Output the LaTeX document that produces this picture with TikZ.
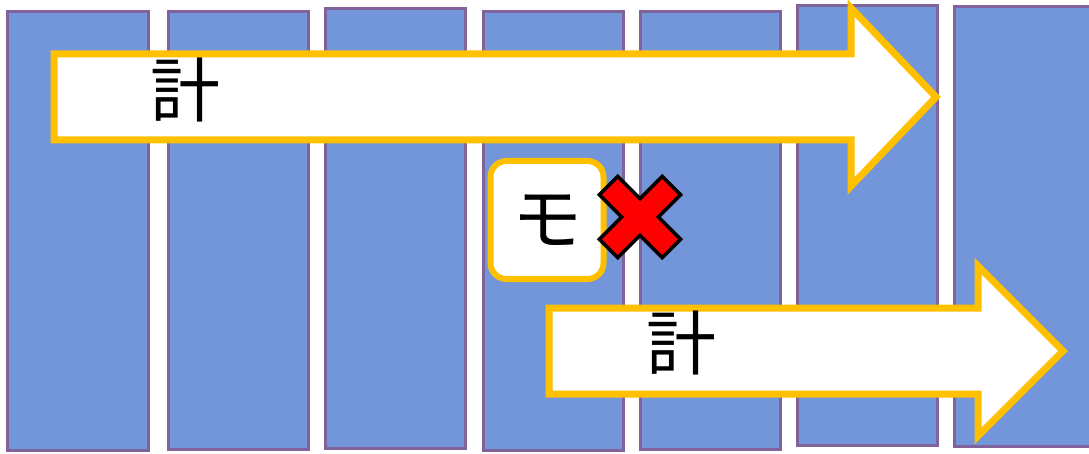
\documentclass[tikz,border=0pt]{standalone}
\usepackage{fontspec}
\newfontfamily\cjk{Noto Sans CJK JP}
\definecolor{colfill}{HTML}{7396DA}
\definecolor{coledge}{HTML}{80639A}
\definecolor{arryel}{HTML}{FFC000}
\definecolor{xred}{HTML}{FF0000}
\tikzset{
  colbox/.style={draw=coledge, fill=colfill, line width=3pt},
  bigarrow/.style={draw=arryel, fill=white, line width=7pt, miter limit=10},
  label/.style={font=\cjk\fontsize{70}{70}\selectfont, inner sep=0pt},
  mobox/.style={draw=arryel, fill=white, line width=6pt, rounded corners=16pt,
    minimum width=113pt, minimum height=118pt, inner sep=0pt},
  xmark/.style={draw=black, fill=xred, line width=3.5pt, line join=miter}
}
\begin{document}
\begin{tikzpicture}[x=1pt,y=-1pt]
\useasboundingbox (0,0) rectangle (1089,454);
\clip (0,0) rectangle (1089,454);
\fill[white] (0,0) rectangle (1089,454);
% columns
\draw[colbox] (7,12) rectangle (148,450);
\draw[colbox] (168,12) rectangle (308,449);
\draw[colbox] (325,9) rectangle (465,448);
\draw[colbox] (483,12) rectangle (623,450);
\draw[colbox] (640,12) rectangle (780,449);
\draw[colbox] (797,6) rectangle (937,445);
\draw[colbox] (954,7) rectangle (1100,446);
% top arrow
\draw[bigarrow] (54,54) -- (851,54) -- (851,8) -- (936,97) -- (851,186) -- (851,140) -- (54,140) -- cycle;
\node[label] (t1) at (185,90) {計};
% mo box
\node[mobox, label] (mo) at (547,220) {モ};
% red cross
\coordinate (xc) at (640,217);
\begin{scope}[shift={(xc)}, rotate=45]
\draw[xmark] (-13,-44.5) -- (13,-44.5) -- (13,-13) -- (44.5,-13) -- (44.5,13) -- (13,13) -- (13,44.5) -- (-13,44.5) -- (-13,13) -- (-44.5,13) -- (-44.5,-13) -- (-13,-13) -- cycle;
\end{scope}
% bottom arrow
\draw[bigarrow] (549,308) -- (978,308) -- (978,266) -- (1063,351) -- (978,436) -- (978,394) -- (549,394) -- cycle;
\node[label] (t2) at (681,343) {計};
\end{tikzpicture}
\end{document}
